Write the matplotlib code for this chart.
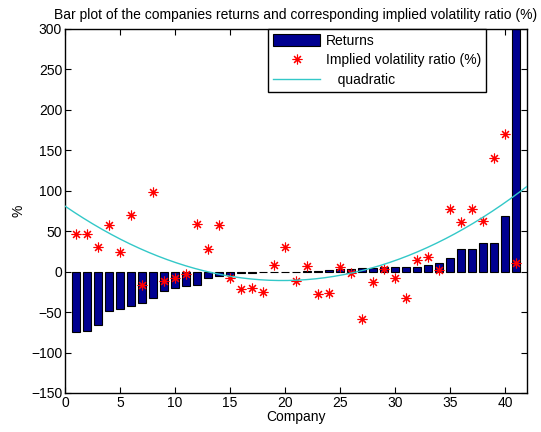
import numpy as np
import matplotlib
matplotlib.use("Agg")
import matplotlib.pyplot as plt

plt.rcParams['font.family'] = ['Liberation Sans', 'DejaVu Sans']

# company index 1..41, returns sorted ascending
company = np.arange(1, 42)
returns = [-74, -73, -66.5, -49, -46.5, -42, -38.5, -32, -24.5, -20,
           -17.5, -16.5, -8, -5.5, -4, -1.5, -1.2, -1, -0.8, -0.6,
           -0.5, 0.5, 1, 2, 3, 3.5, 4, 5, 5.5, 5.8,
           5.8, 5.8, 7.8, 10.7, 17.3, 27.7, 27.7, 35, 35.5, 68.8,
           420]
# implied volatility ratio (%)
ivr = [47, 47, 30, 58, 24, 70, -17, 99, -12, -8,
       -2.5, 59, 28, 58, -8, -21, -20, -25.5, 8, 30,
       -12, 7, -28, -27, 5.5, -1.5, -59, -13, 3, -8,
       -32, 14.5, 18, 2, 78, 62, 78, 63, 141, 170,
       10.5]

fig = plt.figure(figsize=(5.41, 4.32), dpi=100)
ax = fig.add_axes([0.120, 0.0903, 0.854, 0.8426])

b = ax.bar(company, returns, width=0.8, color='#000090', edgecolor='black',
           linewidth=0.8, label='Returns', zorder=2)
s, = ax.plot(company, ivr, linestyle='none', marker=(8, 2, 0), markersize=7,
             markeredgewidth=0.8, color='red', label='Implied volatility ratio (%)', zorder=3)

# quadratic fit over the axis range (basic fitting)
coef = np.polyfit(company, ivr, 2)
xf = np.linspace(0, 42, 200)
q, = ax.plot(xf, np.polyval(coef, xf), color='#33C8C8', linewidth=1.0,
             label='   quadratic', zorder=4)

ax.set_xlim(0, 42)
ax.set_ylim(-150, 300)
ax.set_xticks(np.arange(0, 41, 5))
ax.set_yticks(np.arange(-150, 301, 50))
ax.tick_params(direction='in', top=True, right=True, length=4, labelsize=10, pad=2)
for sp in ax.spines.values():
    sp.set_linewidth(1.0)

ax.set_title('Bar plot of the companies returns and corresponding implied volatility ratio (%)',
             fontsize=10, pad=7)
ax.set_xlabel('Company', fontsize=10, labelpad=0)
ax.set_ylabel('%', fontsize=10, labelpad=4)

leg = ax.legend([b, s, q], ['Returns', 'Implied volatility ratio (%)', '   quadratic'],
                loc='upper right', bbox_to_anchor=(0.911, 1.0), borderaxespad=0,
                fontsize=10, fancybox=False, edgecolor='black', framealpha=1,
                handlelength=3.4, handleheight=0.9, handletextpad=0.4,
                borderpad=0.35, labelspacing=0.4)
leg.get_frame().set_linewidth(1.0)

fig.savefig('out.png', dpi=100)
